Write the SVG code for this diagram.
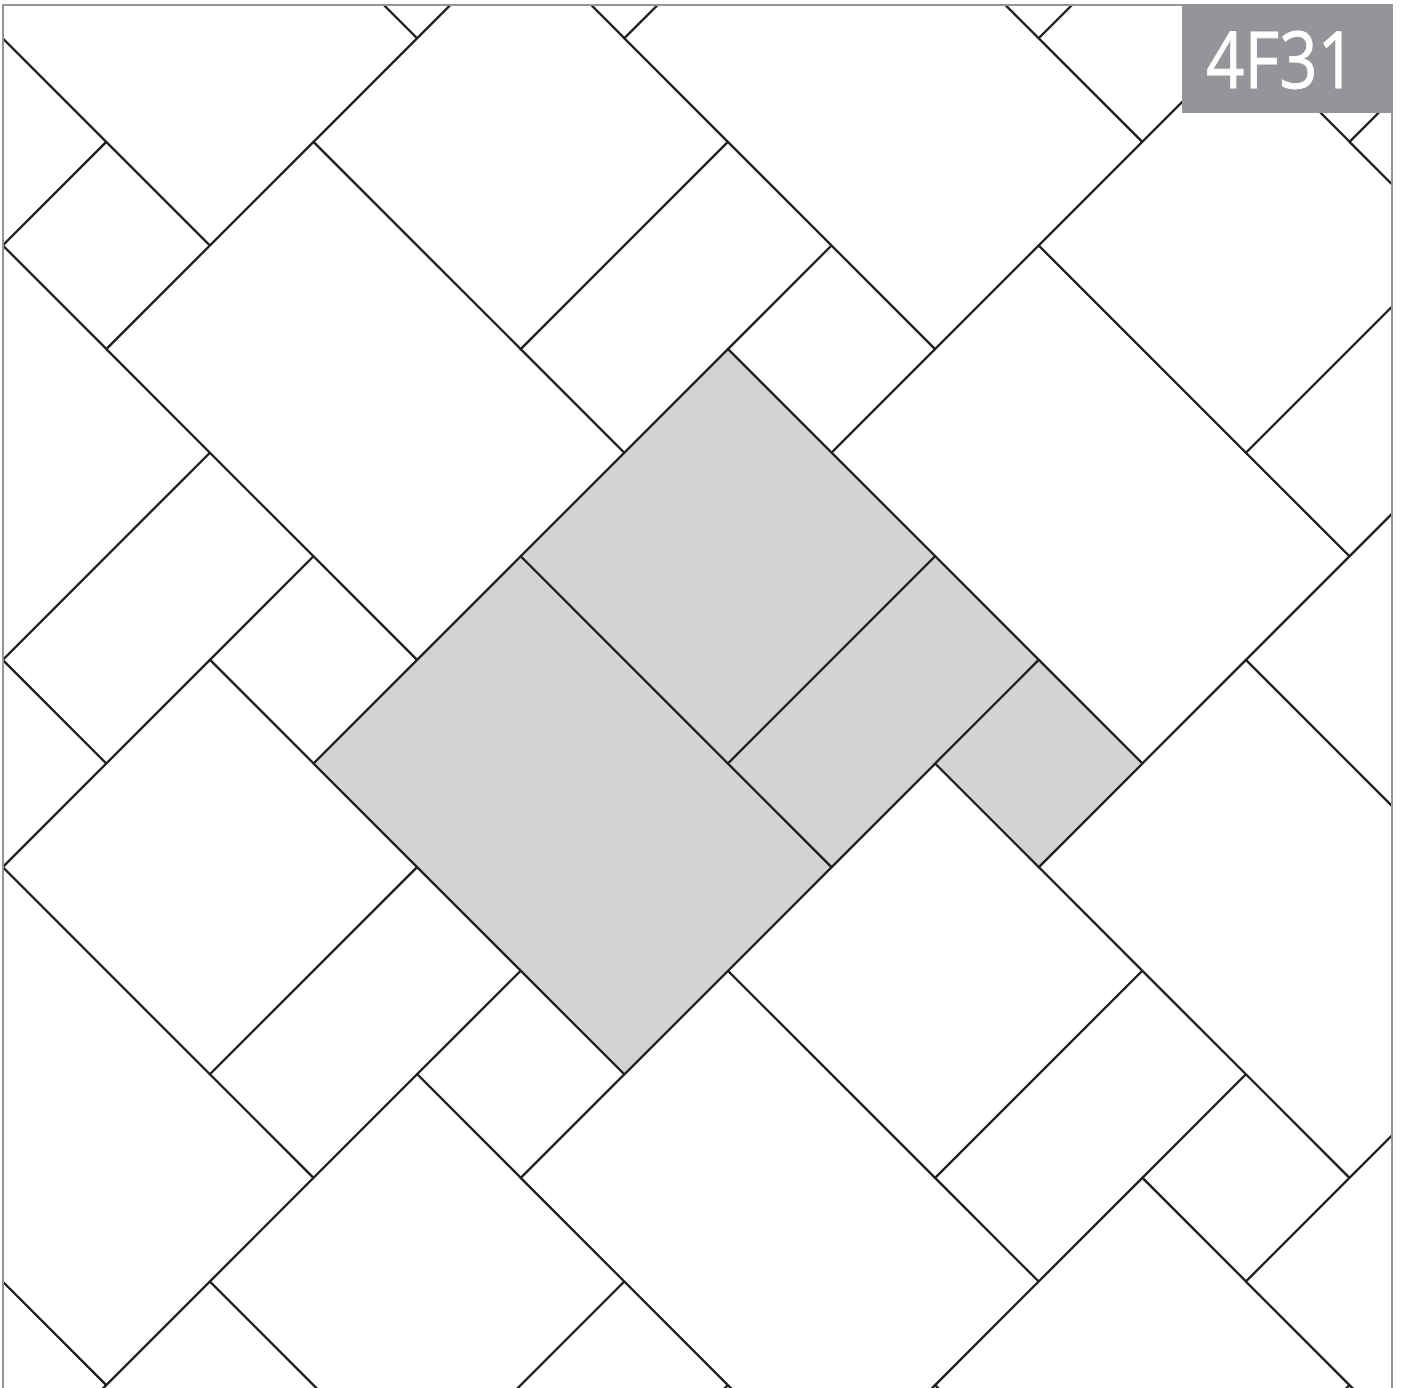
<svg xmlns="http://www.w3.org/2000/svg" width="1402" height="1388" viewBox="0 0 1402 1388">
<style>
  #proto polygon { stroke:#231f20; stroke-width:2.2; stroke-linejoin:miter; }
  .w { fill:#ffffff; }
  .g { fill:#d1d3d4; }
  .frame { fill:none; stroke:#939598; stroke-width:2; }
  .badge { fill:#939598; }
  .label { font-family:"Open Sans","Liberation Sans",sans-serif; font-size:78px; font-weight:400; fill:#ffffff; stroke:#ffffff; stroke-width:0.8; }
</style>
<defs>
  <clipPath id="clip"><rect x="3" y="5" width="1389" height="1383"/></clipPath>
  <g id="proto">
    <polygon points="0,0 310.8,310.8 103.6,518 -207.2,207.2"/>
    <polygon points="0,0 207.2,207.2 414.4,0 207.2,-207.2"/>
    <polygon points="207.2,207.2 310.8,310.8 518,103.6 414.4,0"/>
    <polygon points="414.4,207.2 518,310.8 621.6,207.2 518,103.6"/>
  </g>
</defs>
<rect x="0" y="0" width="1402" height="1388" fill="#ffffff"/>
<g id="tiles" clip-path="url(#clip)">
  <g transform="translate(520.8,556.3)">
    <use href="#proto" class="w" x="-1036" y="621.6"/>
    <use href="#proto" class="w" x="-932.4" y="-518"/>
    <use href="#proto" class="w" x="-725.2" y="-103.6"/>
    <use href="#proto" class="w" x="-518" y="310.8"/>
    <use href="#proto" class="w" x="-310.8" y="725.2"/>
    <use href="#proto" class="w" x="-414.4" y="-828.8"/>
    <use href="#proto" class="w" x="-207.2" y="-414.4"/>
    <use href="#proto" class="w" x="207.2" y="414.4"/>
    <use href="#proto" class="w" x="414.4" y="828.8"/>
    <use href="#proto" class="w" x="310.8" y="-725.2"/>
    <use href="#proto" class="w" x="518" y="-310.8"/>
    <use href="#proto" class="w" x="725.2" y="103.6"/>
    <use href="#proto" class="w" x="932.4" y="518"/>
    <use href="#proto" class="w" x="828.8" y="-1036"/>
    <use href="#proto" class="w" x="1036" y="-621.6"/>
    <use href="#proto" class="g" x="0" y="0"/>
  </g>
</g>
<rect class="frame" x="3" y="5" width="1389" height="1392"/>
<g id="badge">
  <rect class="badge" x="1182" y="5" width="211" height="108"/>
  <text class="label" x="1206" y="88" textLength="150" lengthAdjust="spacingAndGlyphs">4F31</text>
</g>
</svg>
